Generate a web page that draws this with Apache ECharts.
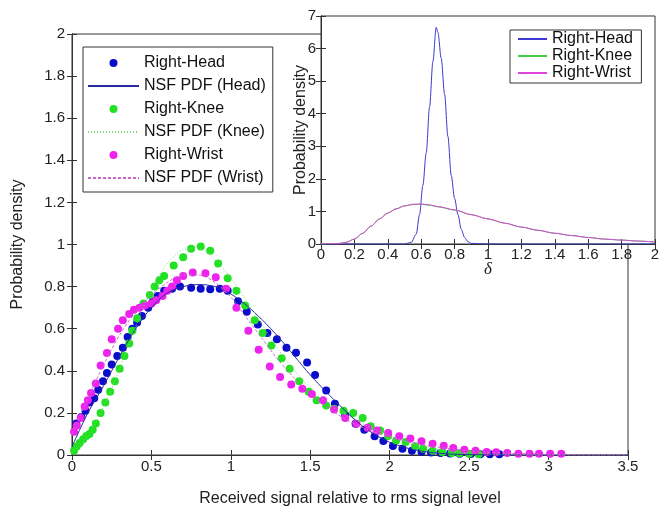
<!DOCTYPE html>
<html><head><meta charset="utf-8">
<script src="https://cdn.jsdelivr.net/npm/echarts@6/dist/echarts.min.js"></script>
<style>html,body{margin:0;padding:0;background:#fff}#c{width:660px;height:506px}</style>
</head><body><div id="c"></div>
<script>
// ---- Main plot: measured points ----
const headX = [0.027,0.059,0.085,0.11,0.14,0.165,0.195,0.22,0.25,0.285,0.32,0.35,0.38,0.41,0.44,0.48,0.51,0.54,0.58,0.63,0.68,0.75,0.81,0.87,0.93,0.98,1.045,1.10,1.17,1.23,1.29,1.35,1.41,1.48,1.53,1.60,1.655,1.72,1.785,1.84,1.905,1.96,2.02,2.08,2.14,2.20,2.26,2.32,2.38,2.44,2.51,2.57,2.63,2.69];
const headY = [0.15,0.18,0.21,0.25,0.27,0.31,0.35,0.39,0.43,0.47,0.51,0.56,0.60,0.63,0.66,0.70,0.73,0.755,0.78,0.79,0.80,0.795,0.79,0.787,0.79,0.78,0.73,0.68,0.62,0.58,0.55,0.51,0.486,0.44,0.38,0.306,0.243,0.19,0.148,0.12,0.089,0.066,0.043,0.03,0.02,0.015,0.012,0.009,0.007,0.006,0.005,0.004,0.003,0.003];
const kneeX = [0.013,0.03,0.048,0.07,0.09,0.11,0.13,0.15,0.18,0.21,0.24,0.27,0.30,0.33,0.36,0.38,0.41,0.45,0.49,0.52,0.55,0.58,0.64,0.70,0.75,0.81,0.87,0.92,0.98,1.035,1.09,1.15,1.20,1.255,1.32,1.37,1.43,1.49,1.54,1.60,1.65,1.71,1.77,1.83,1.88,1.94,1.99,2.04,2.10,2.16,2.21,2.27,2.33,2.39,2.44,2.50,2.56];
const kneeY = [0.02,0.04,0.057,0.075,0.09,0.10,0.12,0.15,0.20,0.25,0.30,0.35,0.41,0.47,0.53,0.59,0.65,0.72,0.76,0.80,0.83,0.85,0.90,0.94,0.98,0.99,0.97,0.91,0.84,0.78,0.71,0.64,0.58,0.52,0.46,0.41,0.35,0.30,0.26,0.235,0.22,0.21,0.20,0.176,0.137,0.116,0.09,0.068,0.062,0.041,0.03,0.02,0.014,0.01,0.008,0.006,0.004];
const wristX = [0.013,0.03,0.055,0.08,0.10,0.12,0.15,0.18,0.22,0.25,0.29,0.32,0.36,0.39,0.425,0.46,0.50,0.53,0.57,0.60,0.63,0.66,0.70,0.76,0.84,0.905,0.97,1.035,1.11,1.175,1.245,1.31,1.38,1.45,1.51,1.58,1.65,1.72,1.79,1.86,1.92,1.99,2.06,2.13,2.20,2.27,2.34,2.40,2.47,2.54,2.61,2.67,2.74,2.81,2.88,2.94,3.01,3.08];
const wristY = [0.11,0.14,0.176,0.23,0.26,0.295,0.34,0.425,0.485,0.55,0.60,0.64,0.67,0.69,0.70,0.71,0.72,0.735,0.755,0.78,0.80,0.83,0.85,0.867,0.864,0.845,0.79,0.70,0.59,0.50,0.42,0.37,0.335,0.315,0.29,0.26,0.216,0.176,0.148,0.13,0.116,0.105,0.089,0.078,0.065,0.054,0.044,0.033,0.025,0.02,0.014,0.013,0.01,0.006,0.006,0.006,0.006,0.006];

// ---- Main plot: NSF PDF fits (sampled every 0.1) ----
const fitX = [0,0.1,0.2,0.3,0.4,0.5,0.6,0.7,0.8,0.9,1.0,1.1,1.2,1.3,1.4,1.5,1.6,1.7,1.8,1.9,2.0,2.1,2.2,2.3,2.4,2.5,2.6,2.7,2.8,2.9,3.0,3.1,3.2,3.3,3.4,3.5];
const headFit = [0.04,0.2,0.33,0.47,0.60,0.70,0.77,0.80,0.81,0.80,0.765,0.71,0.64,0.56,0.47,0.38,0.30,0.225,0.155,0.10,0.06,0.035,0.018,0.009,0.004,0.002,0.001,0,0,0,0,0,0,0,0,0];
const kneeFit = [0.01,0.09,0.23,0.41,0.61,0.79,0.91,0.975,0.98,0.93,0.84,0.73,0.615,0.50,0.40,0.32,0.25,0.20,0.16,0.125,0.09,0.065,0.045,0.03,0.018,0.01,0.005,0.002,0.001,0,0,0,0,0,0,0];
const wristFit = [0.10,0.27,0.43,0.57,0.68,0.76,0.82,0.855,0.855,0.82,0.75,0.65,0.55,0.45,0.365,0.29,0.23,0.18,0.14,0.11,0.085,0.065,0.05,0.038,0.028,0.02,0.014,0.01,0.007,0.005,0.003,0.002,0.001,0,0,0];

// ---- Inset: delta PDFs ----
const insetHeadX = [0,0.5,0.54,0.57,0.59,0.61,0.63,0.65,0.67,0.69,0.70,0.72,0.74,0.76,0.78,0.80,0.82,0.84,0.86,0.88,0.9,1.0,2.0];
const insetHeadY = [0,0,0.05,0.3,0.9,1.8,2.8,4.2,5.6,6.65,6.5,5.7,4.6,3.3,2.1,1.4,0.9,0.45,0.2,0.07,0.02,0,0];
const insetX = [0,0.1,0.15,0.2,0.25,0.3,0.35,0.4,0.45,0.5,0.55,0.6,0.65,0.7,0.8,0.9,1.0,1.1,1.2,1.3,1.4,1.5,1.6,1.7,1.8,1.9,2.0];
const insetKneeY = [0,0.01,0.05,0.15,0.33,0.55,0.77,0.95,1.08,1.17,1.21,1.22,1.19,1.14,1.04,0.9,0.77,0.64,0.52,0.42,0.33,0.26,0.2,0.15,0.12,0.09,0.06];
const insetWristY = [0,0.01,0.05,0.15,0.33,0.55,0.77,0.95,1.08,1.17,1.22,1.23,1.2,1.15,1.05,0.9,0.77,0.64,0.52,0.42,0.33,0.26,0.2,0.15,0.12,0.09,0.06];

const mainXTitle = 'Received signal relative to rms signal level';
const yTitle = 'Probability density';
const insetXTitle = 'δ';

const zip = (xs, ys) => xs.map((x, i) => [x, ys[i]]);
const FONT = 'Liberation Sans, Arial, sans-serif';
const TXT = '#222';

function axisBase(extra) {
  return Object.assign({
    type: 'value',
    nameMoveOverlap: false,
    axisLine: { show: true, lineStyle: { color: '#333', width: 1 } },
    axisTick: { show: true, inside: true, length: 5, lineStyle: { color: '#333' } },
    axisLabel: { color: TXT, fontSize: 15, fontFamily: FONT },
    splitLine: { show: false },
    nameTextStyle: { color: TXT, fontSize: 16, fontFamily: FONT }
  }, extra);
}
const lineLegend = name => ({ name: name, itemStyle: { opacity: 0, borderWidth: 0 } });

const chart = echarts.init(document.getElementById('c'), null, { renderer: 'canvas' });
const option = {
  animation: false,
  backgroundColor: '#fff',
  grid: [
    { left: 72, top: 34, right: 32, bottom: 51, show: true, borderColor: '#333', borderWidth: 1, backgroundColor: '#fff', z: 0, outerBoundsMode: 'none', containLabel: false },
    { left: 321, top: 16, right: 5, bottom: 262, show: true, borderColor: '#333', borderWidth: 1, backgroundColor: '#fff', z: 10, outerBoundsMode: 'none', containLabel: false }
  ],
  xAxis: [
    axisBase({ gridIndex: 0, min: 0, max: 3.5, interval: 0.5, position: 'bottom',
      axisLabel: { color: TXT, fontSize: 15, fontFamily: FONT, margin: 4 },
      name: mainXTitle, nameLocation: 'middle', nameGap: 36 }),
    axisBase({ gridIndex: 0, min: 0, max: 3.5, interval: 0.5, position: 'top', axisLabel: { show: false } }),
    axisBase({ gridIndex: 1, min: 0, max: 2, interval: 0.2, position: 'bottom', z: 11,
      axisLabel: { color: TXT, fontSize: 15, fontFamily: FONT, margin: 3 },
      name: insetXTitle, nameLocation: 'middle', nameGap: 17,
      nameTextStyle: { color: TXT, fontSize: 17, fontStyle: 'italic', fontFamily: 'Liberation Serif, serif' } }),
    axisBase({ gridIndex: 1, min: 0, max: 2, interval: 0.2, position: 'top', z: 11, axisLabel: { show: false } })
  ],
  yAxis: [
    axisBase({ gridIndex: 0, min: 0, max: 2, interval: 0.2, position: 'left',
      axisLabel: { color: TXT, fontSize: 15, fontFamily: FONT, margin: 7 },
      name: yTitle, nameLocation: 'middle', nameGap: 46 }),
    axisBase({ gridIndex: 0, min: 0, max: 2, interval: 0.2, position: 'right', axisLabel: { show: false } }),
    axisBase({ gridIndex: 1, min: 0, max: 7, interval: 1, position: 'left', z: 11,
      axisLabel: { color: TXT, fontSize: 15, fontFamily: FONT, margin: 5 },
      name: yTitle, nameLocation: 'middle', nameGap: 12 }),
    axisBase({ gridIndex: 1, min: 0, max: 7, interval: 1, position: 'right', z: 11, axisLabel: { show: false } })
  ],
  legend: [
    { data: ['Right-Head', lineLegend('NSF PDF (Head)'), 'Right-Knee', lineLegend('NSF PDF (Knee)'), 'Right-Wrist', lineLegend('NSF PDF (Wrist)')],
      orient: 'vertical', left: 83, top: 47, itemWidth: 51, itemHeight: 8, itemGap: 7,
      padding: [8, 7, 6, 4], borderColor: '#333', borderWidth: 1, backgroundColor: '#fff',
      selectedMode: false, textStyle: { color: '#111', fontSize: 16, fontFamily: FONT }, z: 20 },
    { data: [lineLegend('Right-Head '), lineLegend('Right-Knee '), lineLegend('Right-Wrist ')],
      orient: 'vertical', left: 510, top: 30, itemWidth: 29, itemHeight: 8, itemGap: 1,
      padding: [1, 4, 2, 7], borderColor: '#333', borderWidth: 1, backgroundColor: '#fff',
      selectedMode: false, textStyle: { color: '#111', fontSize: 16, fontFamily: FONT }, z: 20 }
  ],
  series: [
    { name: 'Right-Head', type: 'scatter', xAxisIndex: 0, yAxisIndex: 0, data: zip(headX, headY),
      symbol: 'circle', symbolSize: 8, itemStyle: { color: '#0a0ccc', opacity: 1 }, z: 3 },
    { name: 'NSF PDF (Head)', type: 'line', xAxisIndex: 0, yAxisIndex: 0, data: zip(fitX, headFit),
      symbol: 'none', showSymbol: false, smooth: 0.3,
      lineStyle: { color: '#2a2aa0', width: 1 }, itemStyle: { color: '#2a2aa0' }, z: 4 },
    { name: 'Right-Knee', type: 'scatter', xAxisIndex: 0, yAxisIndex: 0, data: zip(kneeX, kneeY),
      symbol: 'circle', symbolSize: 8, itemStyle: { color: '#22e022', opacity: 1 }, z: 3 },
    { name: 'NSF PDF (Knee)', type: 'line', xAxisIndex: 0, yAxisIndex: 0, data: zip(fitX, kneeFit),
      symbol: 'none', showSymbol: false, smooth: 0.3,
      lineStyle: { color: '#7ad87a', width: 1, type: [1, 2] }, itemStyle: { color: '#7ad87a' }, z: 4 },
    { name: 'Right-Wrist', type: 'scatter', xAxisIndex: 0, yAxisIndex: 0, data: zip(wristX, wristY),
      symbol: 'circle', symbolSize: 8, itemStyle: { color: '#ee22ee', opacity: 1 }, z: 3 },
    { name: 'NSF PDF (Wrist)', type: 'line', xAxisIndex: 0, yAxisIndex: 0, data: zip(fitX, wristFit),
      symbol: 'none', showSymbol: false, smooth: 0.3,
      lineStyle: { color: '#cc66cc', width: 1, type: [3, 2] }, itemStyle: { color: '#cc66cc' }, z: 4 },

    { name: 'Right-Head ', type: 'line', xAxisIndex: 2, yAxisIndex: 2, data: zip(insetHeadX, insetHeadY),
      symbol: 'none', showSymbol: false, smooth: 0.3, smoothMonotone: 'x',
      lineStyle: { color: '#3a3ad0', width: 1 }, itemStyle: { color: '#3a3ad0' }, z: 12 },
    { name: 'Right-Knee ', type: 'line', xAxisIndex: 2, yAxisIndex: 2, data: zip(insetX, insetKneeY),
      symbol: 'none', showSymbol: false, smooth: 0.3, smoothMonotone: 'x',
      lineStyle: { color: '#44cc44', width: 1 }, itemStyle: { color: '#44cc44' }, z: 12 },
    { name: 'Right-Wrist ', type: 'line', xAxisIndex: 2, yAxisIndex: 2, data: zip(insetX, insetWristY),
      symbol: 'none', showSymbol: false, smooth: 0.3, smoothMonotone: 'x',
      lineStyle: { color: '#dd44dd', width: 1 }, itemStyle: { color: '#dd44dd' }, z: 12 }
  ]
};
chart.setOption(option);
</script>
</body></html>
